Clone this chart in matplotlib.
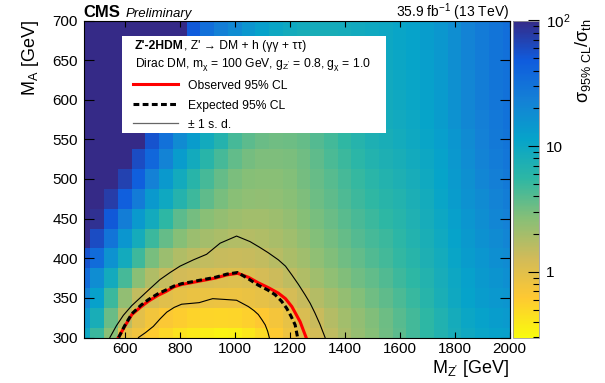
import numpy as np
import matplotlib
matplotlib.use("Agg")
import matplotlib.pyplot as plt
import matplotlib.ticker as mticker
from matplotlib.colors import LinearSegmentedColormap, LogNorm
from matplotlib.patches import Rectangle

plt.rcParams['font.family'] = ['Liberation Sans', 'DejaVu Sans']
plt.rcParams['mathtext.fontset'] = 'custom'
plt.rcParams['mathtext.rm'] = 'Liberation Sans'
plt.rcParams['mathtext.it'] = 'Liberation Sans:italic'
plt.rcParams['mathtext.bf'] = 'Liberation Sans:bold'
plt.rcParams['mathtext.default'] = 'regular'

# grid of signal points (bin centres)
mz = np.arange(450, 2001, 50)   # M_Z' [GeV]
ma = np.arange(300, 701, 25)    # M_A  [GeV]

# sigma_95%CL / sigma_th, one list per M_A row (left -> right in M_Z')
row_300 = [10, 5.0, 2.6, 0.95, 0.78, 0.6, 0.5, 0.43, 0.39, 0.36, 0.34, 0.35, 0.4, 0.48, 0.62, 0.8,
           1.0, 1.25, 1.55, 1.9, 2.3, 2.7, 3.2, 3.8, 4.6, 5.5, 6.8, 8.2, 9.6, 10.8, 11.6, 12.2]
row_325 = [14, 8, 3.4, 1.6, 0.97, 0.76, 0.65, 0.58, 0.54, 0.52, 0.51, 0.52, 0.56, 0.63, 0.74, 0.9,
           1.12, 1.4, 1.7, 2.05, 2.4, 2.8, 3.3, 3.9, 4.6, 5.5, 7.0, 8.6, 10.2, 11.6, 12.8, 13.6]
row_350 = [22, 12, 5.0, 2.4, 1.5, 1.15, 1.0, 0.92, 0.87, 0.84, 0.82, 0.82, 0.86, 0.92, 1.02, 1.2,
           1.42, 1.7, 2.0, 2.35, 2.75, 3.2, 3.7, 4.3, 5.1, 6.2, 7.7, 9.5, 11.4, 13.0, 14.4, 15.5]
row_375 = [35, 18, 9.0, 4.5, 2.6, 1.8, 1.45, 1.28, 1.18, 1.12, 1.07, 1.05, 1.1, 1.2, 1.35, 1.55,
           1.8, 2.1, 2.45, 2.8, 3.2, 3.6, 4.1, 4.8, 5.6, 6.7, 8.2, 10.0, 12.0, 14.0, 15.8, 17.2]
row_400 = [55, 35, 16, 9.0, 4.8, 3.0, 2.2, 1.8, 1.6, 1.5, 1.43, 1.4, 1.42, 1.5, 1.65, 1.85,
           2.1, 2.45, 2.8, 3.2, 3.6, 4.1, 4.6, 5.3, 6.1, 7.2, 8.8, 10.8, 13.0, 15.2, 17.3, 19.0]
row_425 = [100, 60, 30, 15, 8.5, 5.0, 3.5, 2.7, 2.2, 2.0, 1.85, 1.75, 1.72, 1.78, 1.92, 2.1,
           2.4, 2.75, 3.1, 3.5, 4.0, 4.5, 5.0, 5.7, 6.6, 7.8, 9.4, 11.5, 14.0, 16.5, 19.0, 21.0]
row_450 = [150, 90, 50, 25, 14, 9.0, 5.5, 3.8, 3.1, 2.6, 2.35, 2.15, 2.05, 2.05, 2.15, 2.35,
           2.65, 3.0, 3.4, 3.85, 4.4, 4.9, 5.5, 6.2, 7.1, 8.3, 10.0, 12.2, 15.0, 17.7, 20.5, 23.0]
row_475 = [150, 140, 75, 45, 26, 14, 9.5, 6.5, 4.8, 3.7, 3.0, 2.6, 2.45, 2.4, 2.45, 2.6,
           2.9, 3.3, 3.7, 4.2, 4.8, 5.4, 6.0, 6.7, 7.6, 8.8, 10.6, 13.0, 16.0, 19.0, 22.0, 25.0]
row_500 = [150, 150, 120, 70, 45, 23, 14, 9.0, 6.0, 4.5, 3.5, 2.95, 2.7, 2.6, 2.6, 2.75,
           3.05, 3.45, 3.95, 4.5, 5.2, 5.9, 6.6, 7.3, 8.2, 9.4, 11.2, 13.8, 17.0, 20.5, 24.0, 27.0]
row_525 = [150, 150, 150, 100, 60, 38, 22, 13, 9.0, 6.0, 4.5, 3.6, 3.1, 2.9, 2.85, 2.95,
           3.25, 3.7, 4.3, 5.0, 5.8, 6.6, 7.3, 8.0, 8.9, 10.0, 11.8, 14.5, 18.0, 22.0, 25.5, 28.5]
row_550 = [150, 150, 150, 150, 140, 55, 32, 19, 13, 9.0, 6.5, 4.5, 3.8, 3.4, 3.25, 3.3,
           3.55, 4.0, 4.6, 5.4, 6.3, 7.2, 8.0, 8.7, 9.5, 10.6, 12.4, 15.2, 19.0, 23.0, 27.0, 30.0]
row_575 = [150, 150, 150, 150, 150, 120, 55, 32, 20, 13, 9.5, 7.0, 5.2, 4.3, 3.9, 3.8,
           4.0, 4.5, 5.1, 5.9, 6.8, 7.7, 8.5, 9.2, 10.0, 11.2, 13.0, 16.0, 20.0, 24.0, 28.0, 31.0]
row_600 = [150, 150, 150, 150, 150, 150, 110, 55, 32, 20, 13.5, 10.0, 7.2, 5.6, 4.8, 4.5,
           4.6, 5.0, 5.6, 6.4, 7.3, 8.1, 8.9, 9.6, 10.4, 11.6, 13.5, 16.5, 20.5, 24.5, 28.5, 31.5]
row_625 = [150, 150, 150, 150, 150, 150, 150, 100, 50, 32, 21, 15, 11, 8.5, 6.8, 5.9,
           5.6, 5.7, 6.1, 6.8, 7.6, 8.4, 9.2, 9.9, 10.7, 11.9, 13.8, 16.8, 20.8, 24.8, 28.8, 32.0]
row_650 = [150, 150, 150, 150, 150, 150, 150, 120, 48, 33, 23, 17, 12.5, 9.8, 8.0, 7.0,
           6.6, 6.6, 6.9, 7.5, 8.2, 8.9, 9.6, 10.3, 11.2, 12.4, 14.4, 17.5, 21.5, 25.5, 29.5, 32.5]
row_675 = [150, 150, 150, 150, 150, 150, 150, 150, 48, 32, 23, 18, 14.5, 11.5, 9.5, 8.5,
           8.0, 7.9, 8.0, 8.4, 8.9, 9.4, 10.0, 10.6, 11.5, 12.7, 14.7, 17.8, 22.0, 26.0, 30.0, 33.0]
row_700 = [150, 150, 150, 150, 150, 150, 150, 150, 50, 33, 25, 20, 15.5, 12.5, 10.8, 9.8,
           9.0, 8.6, 8.5, 8.7, 9.1, 9.5, 10.1, 10.7, 11.6, 12.8, 15.0, 18.0, 22.5, 26.5, 30.0, 33.0]

ratio = np.array([row_300, row_325, row_350, row_375, row_400, row_425, row_450, row_475, row_500,
                  row_525, row_550, row_575, row_600, row_625, row_650, row_675, row_700])

# 95% CL exclusion contours (M_Z', M_A)
obs_x = [577, 600, 626, 660, 687, 720, 750, 780, 808, 840, 869, 900, 930, 972, 1011, 1050,
         1086, 1122, 1159, 1185, 1208, 1238, 1260]
obs_y = [300, 314, 329, 339, 346, 353, 358, 364, 367, 369, 371, 373, 375, 379, 381, 376,
         369, 363, 356, 349, 339, 320, 300]
exp_x = [578, 600, 626, 660, 687, 720, 750, 780, 808, 840, 869, 900, 930, 972, 1011, 1050,
         1086, 1120, 1147, 1170, 1189, 1205, 1220, 1229]
exp_y = [300, 315, 330, 341, 348, 355, 360, 365, 368, 370, 372, 374, 376, 380, 382, 374,
         366, 360, 354, 346, 337, 327, 316, 300]
up_x = [546, 570, 595, 625, 656, 690, 728, 765, 801, 850, 898, 947, 1007, 1056, 1090, 1122,
        1159, 1185, 1208, 1232, 1256, 1275, 1292, 1310, 1329]
up_y = [300, 315, 328, 340, 350, 361, 373, 382, 390, 398, 405, 419, 428, 421, 414, 407,
        398, 390, 379, 367, 354, 343, 331, 317, 300]
dn_x = [650, 675, 704, 730, 753, 780, 807, 840, 871, 900, 920, 965, 1007, 1050, 1070, 1086,
        1100, 1111, 1120, 1126]
dn_y = [300, 306, 314, 324, 332, 338, 342, 343, 344, 347, 349, 348, 347, 339, 334, 329,
        322, 316, 308, 300]

# ROOT kBird palette, low values yellow
stops = [0.0, 0.125, 0.25, 0.375, 0.5, 0.625, 0.75, 0.875, 1.0]
red = [0.2082, 0.0592, 0.0780, 0.0232, 0.1802, 0.5301, 0.8186, 0.9956, 0.9764]
green = [0.1664, 0.3599, 0.5041, 0.6419, 0.7178, 0.7492, 0.7328, 0.7862, 0.9832]
blue = [0.5293, 0.8684, 0.8385, 0.7914, 0.6425, 0.4662, 0.3499, 0.1968, 0.0539]
bird = LinearSegmentedColormap.from_list('bird', list(zip(stops, zip(red, green, blue))))
cmap = bird.reversed()

W, H = 605, 383
fig = plt.figure(figsize=(W / 100, H / 100), dpi=100)
ax = fig.add_axes([83.5 / W, 45.5 / H, 426 / W, 317 / H])

x_edges = np.append(mz - 25, mz[-1] + 25)
y_edges = np.append(ma - 12.5, ma[-1] + 12.5)
mesh = ax.pcolormesh(x_edges, y_edges, ratio, cmap=cmap, norm=LogNorm(0.3, 100),
                     shading='flat', antialiased=False)

ax.plot(up_x, up_y, color='black', lw=0.8, zorder=3)
ax.plot(dn_x, dn_y, color='black', lw=0.8, zorder=3)
ax.plot(obs_x, obs_y, color='red', lw=2.2, zorder=4)
ax.plot(exp_x, exp_y, color='black', lw=2.2, dashes=(1.9, 1.1), zorder=5)

ax.set_xlim(450, 2000)
ax.set_ylim(300, 700)
ax.set_xticks(range(600, 2001, 200))
ax.set_yticks(range(300, 701, 50))
ax.tick_params(direction='in', top=True, right=True, labelsize=11, width=0.8)
ax.tick_params(axis='x', length=4, pad=3)
ax.tick_params(axis='y', length=7, pad=4)
for s in ax.spines.values():
    s.set_linewidth(0.8)

ax.set_xlabel("M$_{Z'}$ [GeV]", fontsize=13, loc='right')
ax.xaxis.set_label_coords(1.0, -0.065)
ax.set_ylabel("M$_{A}$ [GeV]", fontsize=13, loc='top')
ax.yaxis.set_label_coords(-0.10, 1.0)

ax.text(0.0, 1.012, 'CMS', transform=ax.transAxes, fontsize=12, weight='bold', va='baseline')
ax.text(0.0998, 1.012, 'Preliminary', transform=ax.transAxes, fontsize=9.5, style='italic',
        va='baseline')
ax.text(1.0, 1.012, '35.9 fb$^{-1}$ (13 TeV)', transform=ax.transAxes, fontsize=10,
        ha='right', va='baseline')

# legend box
ax.add_patch(Rectangle((0.0904, 0.645), 0.62, 0.306, transform=ax.transAxes,
                       facecolor='white', edgecolor='none', zorder=6))
t1 = ax.text(0.121, 0.910, "Z'-2HDM", transform=ax.transAxes, fontsize=8.7, weight='bold',
             va='baseline', zorder=7)
ax.annotate(", Z' → DM + h (γγ + ττ)", xy=(1, 0), xycoords=t1, fontsize=8.7,
            va='bottom', zorder=7)
ax.text(0.121, 0.853, "Dirac DM, m$_{χ}$ = 100 GeV, g$_{Z'}$ = 0.8, g$_{χ}$ = 1.0",
        transform=ax.transAxes, fontsize=8.7, va='baseline', zorder=7)

lx = [0.116, 0.222]
ax.plot(lx, [0.800, 0.800], transform=ax.transAxes, color='red', lw=2.2, zorder=7)
ax.plot(lx, [0.737, 0.737], transform=ax.transAxes, color='black', lw=2.2,
        dashes=(1.9, 1.1), zorder=7)
ax.plot(lx, [0.676, 0.676], transform=ax.transAxes, color='0.4', lw=0.9, zorder=7)
ax.text(0.245, 0.784, 'Observed 95% CL', transform=ax.transAxes, fontsize=8.7,
        va='baseline', zorder=7)
ax.text(0.245, 0.722, 'Expected 95% CL', transform=ax.transAxes, fontsize=8.7,
        va='baseline', zorder=7)
ax.text(0.245, 0.661, '± 1 s. d.', transform=ax.transAxes, fontsize=8.7,
        va='baseline', zorder=7)

# colour bar
cax = fig.add_axes([513 / W, 45.5 / H, 26 / W, 317 / H])
cb = fig.colorbar(mesh, cax=cax)
cb.set_ticks([1, 10, 100])
cb.set_ticklabels(['1', '10', '10$^{2}$'])
cax.yaxis.set_minor_locator(mticker.LogLocator(base=10, subs=np.arange(2, 10), numticks=12))
cax.yaxis.set_minor_formatter(mticker.NullFormatter())
cax.tick_params(which='both', direction='in', right=True, left=False, labelsize=11, pad=5,
                width=0.8)
cax.tick_params(which='major', length=8)
cax.tick_params(which='minor', length=4)
cb.outline.set_edgecolor('0.6')
cb.outline.set_linewidth(0.6)

fig.text(583 / W, 1 - 18 / H, r'$σ_{95\%\ CL}/σ_{th}$', rotation=90, fontsize=13,
         ha='center', va='top')

fig.savefig('out.png', dpi=100)
